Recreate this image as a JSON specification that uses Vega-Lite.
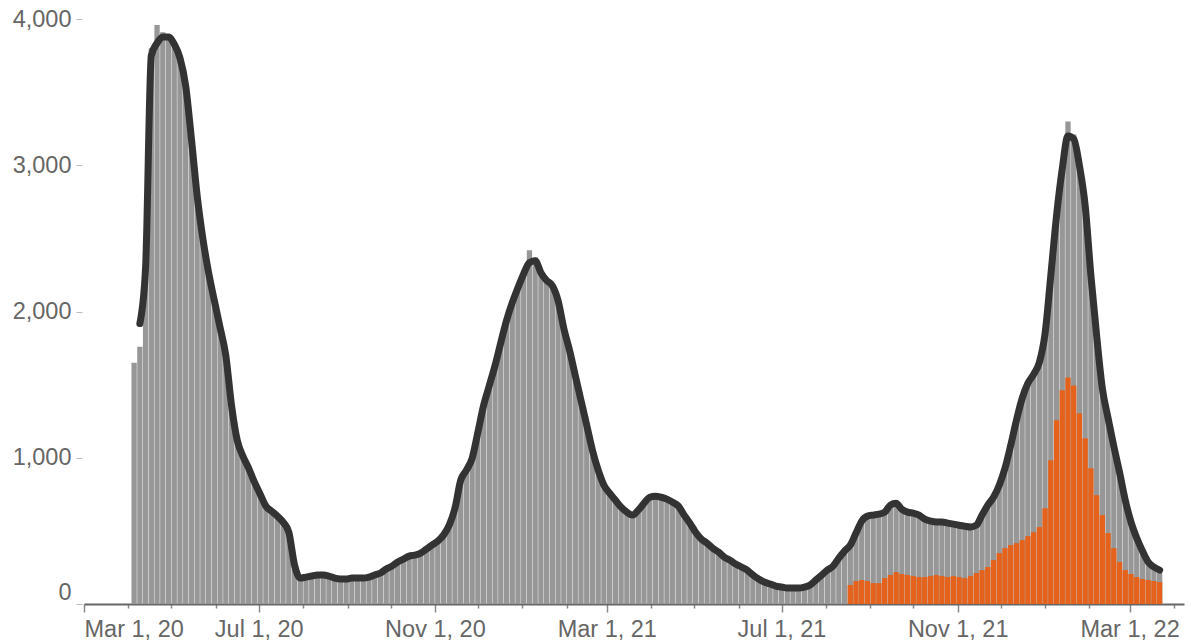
{
"$schema": "https://vega.github.io/schema/vega-lite/v6.json",
"width": 1100, "height": 601,
"autosize": {"type": "none"},
"padding": {"left": 84, "top": 3, "right": 7, "bottom": 36},
"background": "white",
"config": {"view": {"stroke": null}, "font": "Liberation Sans"},
"data": {"values": [
{"d":"2020-04-05","v":1650,"a":null},
{"d":"2020-04-09","v":1760,"a":1918},
{"d":"2020-04-13","v":2500,"a":2300},
{"d":"2020-04-17","v":3800,"a":3750},
{"d":"2020-04-21","v":3960,"a":3836},
{"d":"2020-04-25","v":3910,"a":3877},
{"d":"2020-04-29","v":3890,"a":3877},
{"d":"2020-05-03","v":3840,"a":3829},
{"d":"2020-05-07","v":3745,"a":3734},
{"d":"2020-05-11","v":3555,"a":3543},
{"d":"2020-05-15","v":3190,"a":3181},
{"d":"2020-05-19","v":2800,"a":2792},
{"d":"2020-05-23","v":2510,"a":2498},
{"d":"2020-05-27","v":2275,"a":2266},
{"d":"2020-05-31","v":2085,"a":2075},
{"d":"2020-06-04","v":1900,"a":1891},
{"d":"2020-06-08","v":1710,"a":1700},
{"d":"2020-06-12","v":1370,"a":1358},
{"d":"2020-06-16","v":1130,"a":1119},
{"d":"2020-06-20","v":1020,"a":1010},
{"d":"2020-06-24","v":940,"a":928},
{"d":"2020-06-28","v":845,"a":833},
{"d":"2020-07-02","v":760,"a":751},
{"d":"2020-07-06","v":680,"a":669},
{"d":"2020-07-10","v":645,"a":635},
{"d":"2020-07-14","v":610,"a":601},
{"d":"2020-07-18","v":570,"a":560},
{"d":"2020-07-22","v":500,"a":491},
{"d":"2020-07-26","v":275,"a":266},
{"d":"2020-07-30","v":185,"a":177},
{"d":"2020-08-03","v":190,"a":184},
{"d":"2020-08-07","v":200,"a":191},
{"d":"2020-08-11","v":205,"a":198},
{"d":"2020-08-15","v":205,"a":198},
{"d":"2020-08-19","v":200,"a":191},
{"d":"2020-08-23","v":185,"a":177},
{"d":"2020-08-27","v":180,"a":171},
{"d":"2020-08-31","v":180,"a":171},
{"d":"2020-09-04","v":185,"a":177},
{"d":"2020-09-08","v":185,"a":177},
{"d":"2020-09-12","v":185,"a":177},
{"d":"2020-09-16","v":190,"a":184},
{"d":"2020-09-20","v":205,"a":198},
{"d":"2020-09-24","v":220,"a":212},
{"d":"2020-09-28","v":245,"a":239},
{"d":"2020-10-02","v":265,"a":259},
{"d":"2020-10-06","v":295,"a":287},
{"d":"2020-10-10","v":315,"a":307},
{"d":"2020-10-14","v":335,"a":328},
{"d":"2020-10-18","v":340,"a":334},
{"d":"2020-10-22","v":355,"a":348},
{"d":"2020-10-26","v":385,"a":375},
{"d":"2020-10-30","v":410,"a":403},
{"d":"2020-11-03","v":440,"a":430},
{"d":"2020-11-07","v":480,"a":471},
{"d":"2020-11-11","v":550,"a":539},
{"d":"2020-11-15","v":665,"a":655},
{"d":"2020-11-19","v":855,"a":846},
{"d":"2020-11-23","v":925,"a":915},
{"d":"2020-11-27","v":1005,"a":997},
{"d":"2020-12-01","v":1185,"a":1174},
{"d":"2020-12-05","v":1370,"a":1358},
{"d":"2020-12-09","v":1505,"a":1495},
{"d":"2020-12-13","v":1640,"a":1631},
{"d":"2020-12-17","v":1800,"a":1788},
{"d":"2020-12-21","v":1950,"a":1939},
{"d":"2020-12-25","v":2070,"a":2061},
{"d":"2020-12-29","v":2175,"a":2164},
{"d":"2021-01-02","v":2270,"a":2259},
{"d":"2021-01-06","v":2420,"a":2334},
{"d":"2021-01-10","v":2370,"a":2348},
{"d":"2021-01-14","v":2275,"a":2266},
{"d":"2021-01-18","v":2220,"a":2212},
{"d":"2021-01-22","v":2185,"a":2177},
{"d":"2021-01-26","v":2085,"a":2075},
{"d":"2021-01-30","v":1895,"a":1884},
{"d":"2021-02-03","v":1745,"a":1734},
{"d":"2021-02-07","v":1575,"a":1563},
{"d":"2021-02-11","v":1400,"a":1392},
{"d":"2021-02-15","v":1230,"a":1222},
{"d":"2021-02-19","v":1060,"a":1051},
{"d":"2021-02-23","v":925,"a":915},
{"d":"2021-02-27","v":820,"a":812},
{"d":"2021-03-03","v":765,"a":758},
{"d":"2021-03-07","v":720,"a":710},
{"d":"2021-03-11","v":670,"a":662},
{"d":"2021-03-15","v":635,"a":628},
{"d":"2021-03-19","v":615,"a":608},
{"d":"2021-03-23","v":650,"a":642},
{"d":"2021-03-27","v":700,"a":689},
{"d":"2021-03-31","v":740,"a":730},
{"d":"2021-04-04","v":745,"a":737},
{"d":"2021-04-08","v":740,"a":730},
{"d":"2021-04-12","v":725,"a":717},
{"d":"2021-04-16","v":705,"a":696},
{"d":"2021-04-20","v":680,"a":669},
{"d":"2021-04-24","v":615,"a":608},
{"d":"2021-04-28","v":560,"a":553},
{"d":"2021-05-02","v":500,"a":491},
{"d":"2021-05-06","v":450,"a":444},
{"d":"2021-05-10","v":425,"a":416},
{"d":"2021-05-14","v":390,"a":382},
{"d":"2021-05-18","v":365,"a":355},
{"d":"2021-05-22","v":330,"a":321},
{"d":"2021-05-26","v":310,"a":300},
{"d":"2021-05-30","v":280,"a":273},
{"d":"2021-06-03","v":260,"a":253},
{"d":"2021-06-07","v":240,"a":232},
{"d":"2021-06-11","v":205,"a":198},
{"d":"2021-06-15","v":180,"a":171},
{"d":"2021-06-19","v":155,"a":150},
{"d":"2021-06-23","v":145,"a":137},
{"d":"2021-06-27","v":130,"a":123},
{"d":"2021-07-01","v":125,"a":116},
{"d":"2021-07-05","v":115,"a":109},
{"d":"2021-07-09","v":115,"a":109},
{"d":"2021-07-13","v":115,"a":109},
{"d":"2021-07-17","v":125,"a":116},
{"d":"2021-07-21","v":140,"a":130},
{"d":"2021-07-25","v":170,"a":164},
{"d":"2021-07-29","v":205,"a":198},
{"d":"2021-08-02","v":240,"a":232},
{"d":"2021-08-06","v":265,"a":259},
{"d":"2021-08-10","v":320,"a":314},
{"d":"2021-08-14","v":370,"a":362},
{"d":"2021-08-18","v":410,"a":403,"o":130},
{"d":"2021-08-22","v":495,"a":485,"o":157},
{"d":"2021-08-26","v":575,"a":567,"o":164},
{"d":"2021-08-30","v":610,"a":601,"o":157},
{"d":"2021-09-03","v":615,"a":608,"o":143},
{"d":"2021-09-07","v":620,"a":614,"o":143},
{"d":"2021-09-11","v":635,"a":628,"o":177},
{"d":"2021-09-15","v":685,"a":676,"o":198},
{"d":"2021-09-19","v":700,"a":689,"o":218},
{"d":"2021-09-23","v":655,"a":648,"o":205},
{"d":"2021-09-27","v":635,"a":628,"o":198},
{"d":"2021-10-01","v":630,"a":621,"o":191},
{"d":"2021-10-05","v":615,"a":608,"o":184},
{"d":"2021-10-09","v":590,"a":580,"o":184},
{"d":"2021-10-13","v":575,"a":567,"o":191},
{"d":"2021-10-17","v":570,"a":560,"o":198},
{"d":"2021-10-21","v":570,"a":560,"o":191},
{"d":"2021-10-25","v":560,"a":553,"o":184},
{"d":"2021-10-29","v":555,"a":546,"o":191},
{"d":"2021-11-02","v":545,"a":539,"o":184},
{"d":"2021-11-06","v":540,"a":532,"o":177},
{"d":"2021-11-10","v":535,"a":526,"o":191},
{"d":"2021-11-14","v":545,"a":539,"o":212},
{"d":"2021-11-18","v":615,"a":608,"o":232},
{"d":"2021-11-22","v":685,"a":676,"o":253},
{"d":"2021-11-26","v":740,"a":730,"o":300},
{"d":"2021-11-30","v":820,"a":812,"o":348},
{"d":"2021-12-04","v":935,"a":928,"o":382},
{"d":"2021-12-08","v":1095,"a":1085,"o":403},
{"d":"2021-12-12","v":1265,"a":1256,"o":416},
{"d":"2021-12-16","v":1415,"a":1406,"o":437},
{"d":"2021-12-20","v":1520,"a":1509,"o":464},
{"d":"2021-12-24","v":1580,"a":1570,"o":491},
{"d":"2021-12-28","v":1660,"a":1652,"o":526},
{"d":"2022-01-01","v":1860,"a":1850,"o":655},
{"d":"2022-01-05","v":2255,"a":2246,"o":983},
{"d":"2022-01-09","v":2665,"a":2655,"o":1256},
{"d":"2022-01-13","v":2985,"a":2976,"o":1461},
{"d":"2022-01-17","v":3300,"a":3201,"o":1549},
{"d":"2022-01-21","v":3210,"a":3181,"o":1495},
{"d":"2022-01-25","v":3005,"a":2997,"o":1304},
{"d":"2022-01-29","v":2730,"a":2724,"o":1133},
{"d":"2022-02-02","v":2255,"a":2246,"o":928},
{"d":"2022-02-06","v":1845,"a":1836,"o":744},
{"d":"2022-02-10","v":1485,"a":1474,"o":608},
{"d":"2022-02-14","v":1280,"a":1270,"o":485},
{"d":"2022-02-18","v":1085,"a":1078,"o":382},
{"d":"2022-02-22","v":910,"a":901,"o":287},
{"d":"2022-02-26","v":720,"a":710,"o":232},
{"d":"2022-03-02","v":570,"a":560,"o":205},
{"d":"2022-03-06","v":460,"a":451,"o":184},
{"d":"2022-03-10","v":370,"a":362,"o":171},
{"d":"2022-03-14","v":295,"a":287,"o":164},
{"d":"2022-03-18","v":260,"a":253,"o":157},
{"d":"2022-03-22","v":215,"a":232,"o":150}
]},
"encoding": {
  "x": {"field": "d", "type": "temporal",
    "scale": {"type": "utc", "padding": 0, "nice": false, "domain": [{"year": 2020, "month": 3, "date": 1, "utc": true}, {"year": 2022, "month": 4, "date": 8, "utc": true}]},
    "axis": {"title": null, "grid": false,
      "tickCount": {"interval": "month", "step": 1},
      "labelExpr": "utcmonth(datum.value) % 4 == 2 ? utcFormat(datum.value, '%b %-d, %y') : ''",
      "labelFlush": true, "labelOverlap": false,
      "labelFont": "Liberation Sans", "labelFontSize": 23.5, "labelColor": "#666", "labelPadding": 5,
      "tickSize": {"condition": {"test": "utcmonth(datum.value) % 4 == 2", "value": 8}, "value": 4},
      "tickColor": "#888", "tickWidth": 1.5,
      "domainColor": "#666", "domainWidth": 2}
  }
},
"layer": [
  {"mark": {"type": "bar", "width": 5.3, "color": "#979797"},
   "encoding": {"y": {"field": "v", "type": "quantitative", "title": null,
     "scale": {"domain": [0, 4110], "nice": false, "zero": true},
     "axis": {"title": null, "grid": false, "domain": false, "values": [0, 1000, 2000, 3000, 4000], "format": ",d",
       "tickSize": 6, "tickColor": "#bbb", "labelPadding": 5, "offset": 2, "labelFlush": true,
       "labelFont": "Liberation Sans", "labelFontSize": 23.5, "labelColor": "#666"}}}},
  {"mark": {"type": "bar", "width": 5.3, "color": "#e4621b"},
   "encoding": {"y": {"field": "o", "type": "quantitative", "title": null}}},
  {"mark": {"type": "line", "color": "#333333", "strokeWidth": 7, "strokeCap": "round", "strokeJoin": "round", "interpolate": "monotone"},
   "encoding": {"y": {"field": "a", "type": "quantitative", "title": null}}}
]
}
